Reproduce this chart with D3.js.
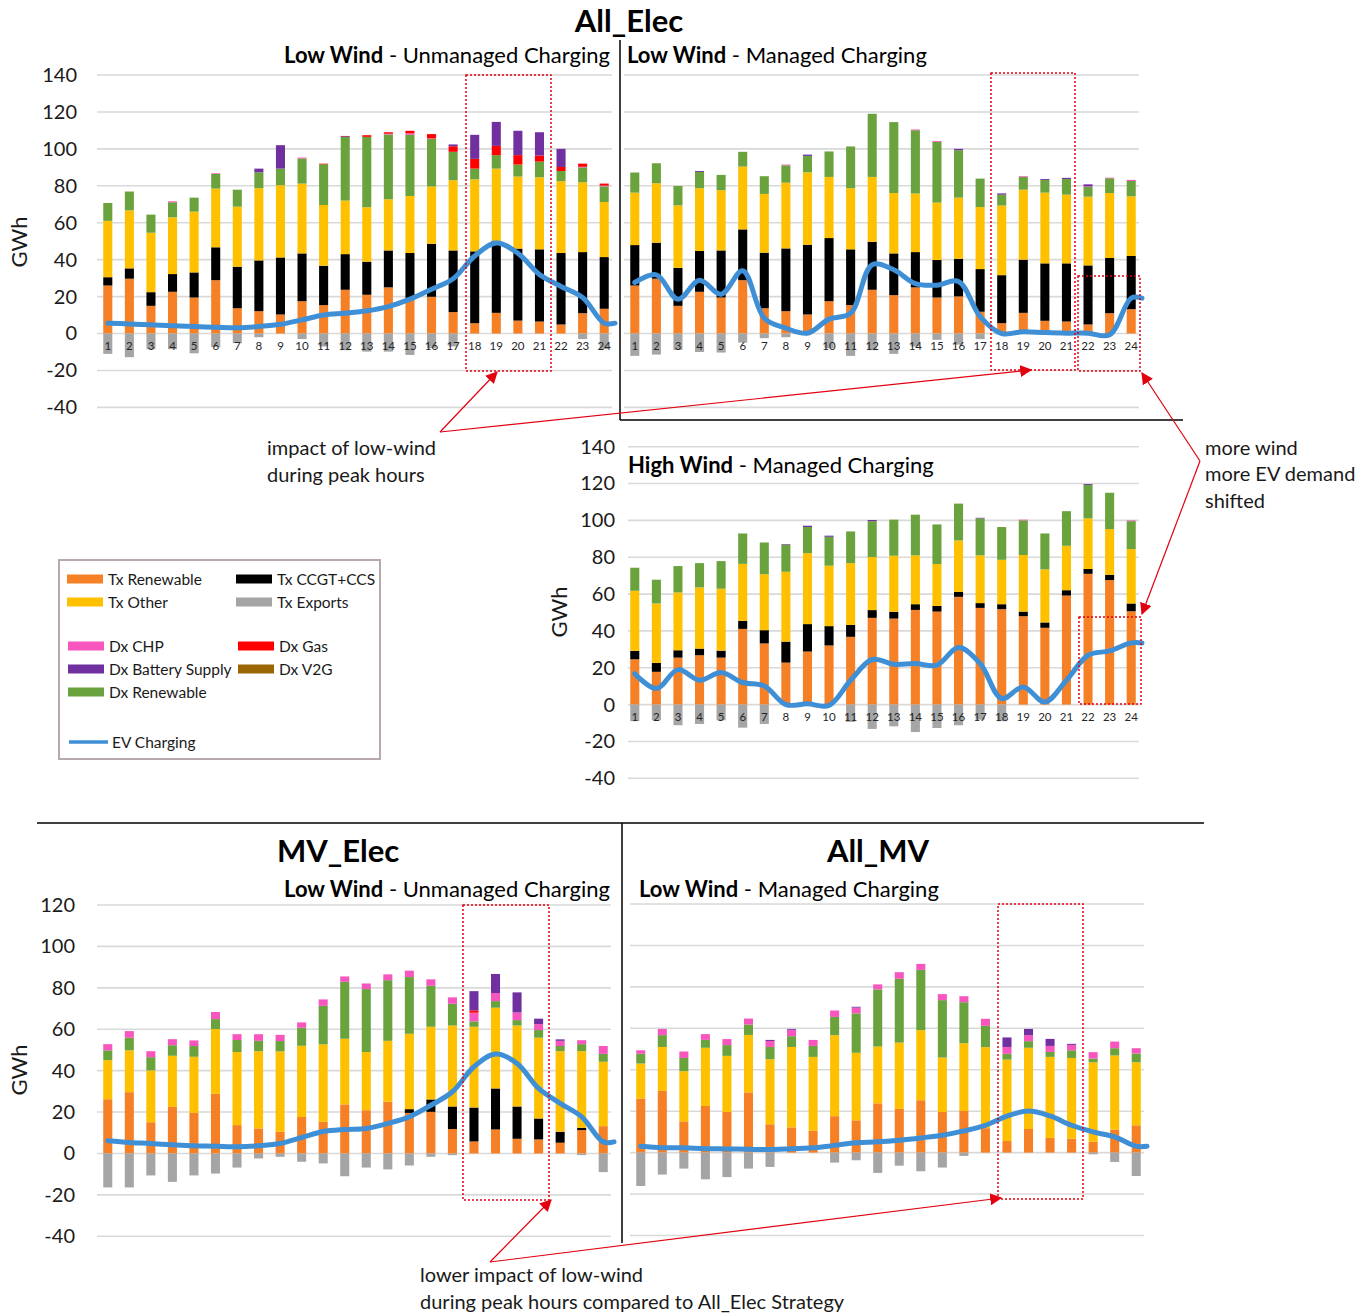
<!DOCTYPE html>
<html><head><meta charset="utf-8">
<script src="https://cdn.jsdelivr.net/npm/d3@7"></script>
<style>
body{margin:0;background:#fff;}
svg{font-family:Lato,"Open Sans",sans-serif;}
</style></head><body>
<svg id="chart" width="1371" height="1313"></svg>
<script>
// ---------- DATA ----------
const hours = d3.range(1,25).map(String);
const yTicksTop = [-40,-20,0,20,40,60,80,100,120,140];
const yTicksBottom = [-40,-20,0,20,40,60,80,100,120];

// All_Elec, Low Wind, Unmanaged
const aeLU_txRen   = [26,29.7,15,22.6,19.5,28.9,13.7,12.1,10.3,17.5,15.4,23.7,21,25,19.3,19.9,11.6,5.6,11.2,7,6.5,4.9,11,13.4];
const aeLU_ccgt    = [4.5,5.6,7.4,9.6,13.6,17.8,22.5,27.5,30.9,25.9,21.3,19.3,17.9,20,24.3,28.7,33.4,38.9,39.1,39,39.1,38.7,33.1,28];
const aeLU_txOther = [30.5,31.4,32.2,30.7,32.9,31.8,32.5,39.1,39.1,37.8,32.9,29,29.5,27.7,30.9,31,38,39,39,39,39,38.9,37.8,29.8];
const aeLU_dxRen   = [9.7,10.2,9.8,8.2,7.6,7.9,9.2,8.6,9,13.6,22.1,34.5,38.1,35.1,33.1,25.8,15.4,5.8,7.3,6.5,8.5,5.5,8.1,8.5];
const aeLU_dxChp   = [0,0,0,0.5,0,0.4,0,0,0,0.5,0,0,0,0.4,0.8,0.3,0,0,0,0,0,0,0.3,0.4];
const aeLU_dxGas   = [0,0,0,0,0,0,0,0,0,0,0.3,0.3,0.9,0.8,1.4,2.3,3,5.3,5,5.1,3.3,2.2,1.7,1.1];
const aeLU_dxBatt  = [0,0,0,0,0,0,0,2,12.7,0,0,0.2,0,0,0,0,1,13,13,13.2,12.6,9.8,0,0];
const aeLU_exports = [-11,-12.8,-8.5,-8.5,-10.7,-7.4,-5.2,-2,0,-3,-7,-9,-9.8,-9.8,-11.6,-8,-7,0,0,0,0,0,-3,-8.5];
const aeLU_ev      = [5.6,5.2,4.7,4.2,3.8,3.4,3.1,3.8,5,7.4,10,11,12.3,14.6,18.6,24,29.7,42,49,43.5,32,25.5,19.5,5.6];

// All_Elec, Low Wind, Managed
const aeLM_txRen   = [26,29.7,15,22.6,19.5,28.9,13.7,12.1,10.3,17.5,15.4,23.7,20.8,25,19.5,20.1,11.8,5.6,11.2,6.9,6.5,4.9,11,13.2];
const aeLM_ccgt    = [21.9,19.5,20.6,22.1,25.5,27.5,30.1,34,37.8,34.2,30.2,26,22.6,19.1,20.3,20.4,23.1,26,28.8,31.1,31.5,32,29.9,28.8];
const aeLM_txOther = [28.4,32.2,33.8,34,32.6,34,31.8,35.6,39.2,33.1,33.1,35.1,32.7,31.7,31.1,33.1,33.6,37.7,37.9,38.3,37.2,37.2,35.2,32.3];
const aeLM_dxRen   = [10.9,10.8,10.5,8.8,8.3,8,9.6,9.4,8.9,13.8,22.6,34.2,38.4,34.3,32.9,25.7,15.4,5.9,6.9,6.9,8.5,5.3,8,8.3];
const aeLM_dxChp   = [0,0,0,0,0,0,0,0.4,0,0,0,0,0,0.4,0.5,0,0,0,0.4,0,0,0.3,0.3,0.6];
const aeLM_dxGas   = [0,0,0,0,0,0,0,0,0,0,0,0,0,0,0,0,0,0,0,0,0,0,0,0];
const aeLM_dxBatt  = [0,0,0,0.5,0,0,0,0,0.7,0,0,0,0,0,0,0.7,0,0.7,0,0.5,0.6,1.1,0,0];
const aeLM_exports = [-12.1,-11.4,-8.9,-10,-10.3,-4.9,-2.5,-2,0,-8,-12.1,-9,-11,-7,-3.4,-6,-3,0,0,0,0,0,0,0];
const aeLM_ev      = [27.7,31.8,18.6,28.8,21.3,34,8.3,2.9,0.2,7.8,11,37.3,34.5,27,26.2,28.2,9.2,0,1,0.5,0.2,0.2,-0.7,19.2];

// All_Elec, High Wind, Managed
const aeHM_txRen   = [24.6,17.8,25.5,26.8,25.5,41.1,33.2,22.8,28.8,32.1,36.8,47.1,46.7,51.4,50.5,58.5,52.5,51.8,48,41.7,59.2,71,67.6,50.7];
const aeHM_ccgt    = [4.6,4.8,4,3.6,3.8,4.4,7.2,11.4,14.9,10.5,6.5,4.2,3.7,3.1,3.1,2.7,2.6,2.7,2.5,2.9,2.9,2.6,2.9,4.2];
const aeHM_txOther = [32.6,32.3,31.4,33.2,33.6,30.9,30.4,37.9,38.5,32.8,33.5,28.8,30.4,26.5,22.7,27.9,25.9,24.1,30.7,28.8,24.1,27.5,24.8,29.5];
const aeHM_dxRen   = [12.5,12.9,14.3,13.2,15,16.5,17.2,14.7,14.2,15.7,17.2,19.5,19.6,22.1,21.5,20,20.1,17.8,18.8,19.5,18.8,18.1,19.7,15.2];
const aeHM_dxChp   = [0,0,0,0,0,0,0,0,0,0,0,0,0,0,0,0,0,0,0.4,0,0,0,0,0.4];
const aeHM_dxGas   = [0,0,0,0,0,0,0,0,0,0,0,0,0,0,0,0,0,0,0,0,0,0,0,0];
const aeHM_dxBatt  = [0,0,0,0,0,0,0,0.3,0.7,0.6,0,0.6,0,0,0,0,0.3,0,0,0,0,0.5,0,0];
const aeHM_exports = [-9,-8.5,-11.2,-10.5,-8.5,-12.5,-10.5,0,0,0,-9.4,-13.2,-11.8,-14.9,-12.7,-11.2,-8.2,-9,0,0,0,0,0,0];
const aeHM_ev      = [16.8,8.7,19,13.2,17.4,12,10.1,0,0.4,-0.4,13.2,24.5,21.9,22.3,21.4,31,22.3,3.3,9.6,1.4,13.2,26.8,29.2,33.5];

// MV_Elec, Low Wind, Unmanaged
const meLU_txRen   = [26.2,29.6,15.1,22.5,19.6,28.8,13.7,12.1,10.5,17.6,15.3,23.7,20.9,25,19.6,20.1,11.8,5.8,11.6,7.1,6.8,5.2,11.3,13.2];
const meLU_ccgt    = [0,0,0,0,0,0,0,0,0,0,0,0,0,0,1.8,6,10.9,16.4,19.8,15.6,10.1,5.3,1.1,0];
const meLU_txOther = [18.9,20.2,25,24.7,27.1,31.3,35.3,37.3,38.8,34.4,37.4,31.7,28.1,29.4,36.4,35.1,39.1,39,39,39.1,39,38.9,37,31.1];
const meLU_dxRen   = [4.7,6.1,6.4,5.1,5.2,4.8,5.8,5,5,8.7,18.6,27.5,30.4,29.3,27.4,19.8,10.5,2.6,3.2,2.6,3.7,2.5,3.4,3.8];
const meLU_dxChp   = [3,3.2,2.9,2.9,2.7,3.4,2.8,3.2,3,2.6,3.1,2.6,2.7,2.8,3.1,3.1,3.1,4.2,3.9,3.7,2.9,2.5,1.9,3.8];
const meLU_dxGas   = [0,0,0,0,0,0,0,0,0,0,0,0,0,0,0,0,0,1.1,0,0,0,0,0,0];
const meLU_dxBatt  = [0,0,0,0,0,0,0,0,0,0,0,0,0,0,0,0,0,9.3,9.2,9.7,2.6,0.7,0,0];
const meLU_exports = [-16.4,-16.4,-10.6,-13.7,-10.6,-9.7,-6.8,-2.4,-1.6,-4,-4.8,-11,-6.8,-7.7,-5.8,-1.6,-0.8,0,0,0,0,0,-0.8,-9];
const meLU_ev      = [6.1,5.3,4.8,4.2,3.7,3.5,3.2,3.7,4.8,7.7,10.6,11.6,12.1,14.5,17.7,23.3,29.8,41.9,48,43.5,31.4,24.2,17.7,5.6];

// All_MV, Low Wind, Managed
const amLM_txRen   = [26.1,29.8,15.1,22.5,19.6,29.1,13.7,12.2,10.5,17.6,15.6,23.8,21.1,25.3,19.6,20.1,11.8,5.6,11.4,7.1,6.8,5.2,11.1,13.2];
const amLM_ccgt    = [0,0,0,0,0,0,0,0,0,0,0,0,0,0,0,0,0,0,0,0,0,0,0,0];
const amLM_txOther = [16.9,21.2,24.2,28.1,27.1,27.7,31.4,38.8,35.7,39.1,32.6,27.4,32,33.8,26.3,32.7,39.1,39.3,39.2,39.1,38.9,38.4,35.8,30.4];
const amLM_dxRen   = [4.7,5.7,6.4,3.8,5.2,5,5.9,5.2,5.3,8.8,19,27.6,30.8,29.1,27.7,19.8,10.3,2.8,3.2,2.4,3.7,1.8,3.5,4.2];
const amLM_dxChp   = [1.7,3,3.1,2.8,2.9,2.9,2.9,3.1,2.9,3.1,2.8,2.4,3.2,2.9,2.9,2.9,3.4,3.3,2.9,2.9,2.6,3.1,3.2,2.6];
const amLM_dxGas   = [0,0,0,0,0,0,0,0,0,0,0,0,0,0,0,0,0,0,0,0,0,0,0,0];
const amLM_dxBatt  = [0,0,0,0,0,0,0.5,0.4,0,0,0.4,0,0,0,0,0,0,4.6,3,3.4,0.5,0,0,0];
const amLM_exports = [-16.1,-10.6,-7.7,-12.9,-11.8,-7.7,-6.9,0,0,-4.8,-3.7,-9.8,-6.3,-9,-7.2,-1.6,0,0,0,0,0,-0.8,-4.5,-11.3];
const amLM_ev      = [3.1,2.4,2.3,1.9,1.8,1.6,1.5,1.9,2.3,3.5,4.8,5.2,6,7.1,8.4,10.5,13.2,17.6,20.1,17.7,13.2,10,7.6,3.1];

// ---------- STYLE ----------
const C = {txRen:"#F58025", ccgt:"#000000", txOther:"#FFC000", dxRen:"#6AA33D",
           dxChp:"#F656BE", dxGas:"#FF0000", dxBatt:"#7030A0", v2g:"#996600",
           exports:"#A5A5A5", ev:"#3F8FD6"};
const stackKeys = ["txRen","ccgt","txOther","dxRen","dxChp","dxGas","dxBatt"];
const svg = d3.select("#chart");
const FONT = "Lato, 'Open Sans', sans-serif";

const panels = [
 {name:"aeLU", s:{txRen:aeLU_txRen,ccgt:aeLU_ccgt,txOther:aeLU_txOther,dxRen:aeLU_dxRen,dxChp:aeLU_dxChp,dxGas:aeLU_dxGas,dxBatt:aeLU_dxBatt},
  exp:aeLU_exports, ev:aeLU_ev, xr:[97,615], yr:[407.4,75], ticks:yTicksTop, yLabels:77, gwh:[20,242], hourLabels:true},
 {name:"aeLM", s:{txRen:aeLM_txRen,ccgt:aeLM_ccgt,txOther:aeLM_txOther,dxRen:aeLM_dxRen,dxChp:aeLM_dxChp,dxGas:aeLM_dxGas,dxBatt:aeLM_dxBatt},
  exp:aeLM_exports, ev:aeLM_ev, xr:[624,1142], yr:[407.4,75], ticks:yTicksTop, yLabels:null, hourLabels:true},
 {name:"aeHM", s:{txRen:aeHM_txRen,ccgt:aeHM_ccgt,txOther:aeHM_txOther,dxRen:aeHM_dxRen,dxChp:aeHM_dxChp,dxGas:aeHM_dxGas,dxBatt:aeHM_dxBatt},
  exp:aeHM_exports, ev:aeHM_ev, xr:[624,1142], yr:[778.3,446.7], ticks:yTicksTop, yLabels:615, gwh:[560,612], hourLabels:true, gridStart:628},
 {name:"meLU", s:{txRen:meLU_txRen,ccgt:meLU_ccgt,txOther:meLU_txOther,dxRen:meLU_dxRen,dxChp:meLU_dxChp,dxGas:meLU_dxGas,dxBatt:meLU_dxBatt},
  exp:meLU_exports, ev:meLU_ev, xr:[97,614], yr:[1236.3,905], ticks:yTicksBottom, yLabels:75, gwh:[20,1070], hourLabels:false},
 {name:"amLM", s:{txRen:amLM_txRen,ccgt:amLM_ccgt,txOther:amLM_txOther,dxRen:amLM_dxRen,dxChp:amLM_dxChp,dxGas:amLM_dxGas,dxBatt:amLM_dxBatt},
  exp:amLM_exports, ev:amLM_ev, xr:[630,1147], yr:[1235.5,904], ticks:yTicksBottom, yLabels:null, hourLabels:false}
];

panels.forEach(p=>{
  const domain = [p.ticks[0], p.ticks[p.ticks.length-1]];
  const x = d3.scaleBand().domain(hours).range(p.xr).paddingInner(0.58).paddingOuter(0.29);
  const y = d3.scaleLinear().domain(domain).range(p.yr);
  const g = svg.append("g").attr("class","panel-"+p.name);
  const gx0 = p.gridStart || p.xr[0];
  g.selectAll("line.grid").data(p.ticks).join("line").attr("class","grid")
    .attr("x1",gx0).attr("x2",p.xr[1]-3).attr("y1",d=>y(d)).attr("y2",d=>y(d))
    .attr("stroke","#D9D9D9").attr("stroke-width",1.6);

  const segs = [];
  hours.forEach((h,i)=>{
    let c = 0;
    stackKeys.forEach(k=>{
      const v = p.s[k][i];
      if (v>0){ segs.push({h, k, y0:c, y1:c+v}); c += v; }
    });
    if (p.exp[i] < 0) segs.push({h, k:"exports", y0:p.exp[i], y1:0});
  });
  g.selectAll("rect.seg").data(segs).join("rect").attr("class","seg")
    .attr("x",d=>x(d.h)).attr("width",x.bandwidth())
    .attr("y",d=>y(d.y1)).attr("height",d=>Math.max(0.6,y(d.y0)-y(d.y1)))
    .attr("fill",d=>C[d.k]);

  if (p.hourLabels){
    const ax = g.append("g").attr("transform",`translate(0,${y(0)})`)
      .call(d3.axisBottom(x).tickSize(0).tickPadding(8));
    ax.select(".domain").remove();
    ax.selectAll("text").attr("font-size",11.5).attr("fill","#262626").attr("font-family",FONT);
  }

  if (p.yLabels !== null){
    const ay = g.append("g").attr("transform",`translate(${p.yLabels},0)`)
      .call(d3.axisLeft(y).tickValues(p.ticks).tickSize(0).tickPadding(0).tickFormat(d=>String(d)));
    ay.select(".domain").remove();
    ay.selectAll("text").attr("font-size",20).attr("fill","#1a1a1a").attr("font-family",FONT);
    g.append("text").attr("transform",`translate(${p.gwh[0]+7},${p.gwh[1]}) rotate(-90)`)
      .attr("text-anchor","middle").attr("font-size",22).attr("fill","#1a1a1a").text("GWh");
  }

  // EV line: points at bar centres, held flat for half a step past the last hour
  const cx = h => x(h) + x.bandwidth()/2;
  const pts = p.ev.map((v,i)=>[cx(hours[i]), y(v)]);
  const last = pts[pts.length-1];
  pts.push([last[0] + x.step()*0.5, last[1]]);
  const line = d3.line().curve(d3.curveCatmullRom.alpha(0.5));
  g.append("path").datum(pts).attr("d",line).attr("fill","none")
    .attr("stroke",C.ev).attr("stroke-width",5).attr("stroke-linejoin","round").attr("stroke-linecap","round");
});

// ---------- TITLES ----------
function title(x,y,txt,size){
  svg.append("text").attr("x",x).attr("y",y).attr("text-anchor","middle")
    .attr("font-size",size).attr("font-weight","bold").attr("fill","#000").text(txt);
}
title(629,32,"All_Elec",31);
title(338,862,"MV_Elec",31);
title(878,862,"All_MV",31);
function sub(x,y,bold,rest,anchor){
  const t = svg.append("text").attr("x",x).attr("y",y).attr("text-anchor",anchor).attr("font-size",22).attr("fill","#000");
  t.append("tspan").attr("font-weight","bold").text(bold);
  t.append("tspan").text(rest);
}
sub(610,63,"Low Wind"," - Unmanaged Charging","end");
sub(627,63,"Low Wind"," - Managed Charging","start");
sub(628,473,"High Wind"," - Managed Charging","start");
sub(610,897,"Low Wind"," - Unmanaged Charging","end");
sub(639,897,"Low Wind"," - Managed Charging","start");

// ---------- FRAMES ----------
const frame = [[620,40,620,420],[620,420,1183,420],[37,823,1204,823],[622,823,622,1243]];
svg.selectAll("line.frame").data(frame).join("line").attr("class","frame")
  .attr("x1",d=>d[0]).attr("y1",d=>d[1]).attr("x2",d=>d[2]).attr("y2",d=>d[3])
  .attr("stroke","#000").attr("stroke-width",1.5);

// ---------- LEGEND ----------
const lg = svg.append("g");
lg.append("rect").attr("x",59).attr("y",560).attr("width",321).attr("height",199)
  .attr("fill","#fff").attr("stroke","#B8A9AE").attr("stroke-width",2);
const legendItems = [
  {k:"txRen", t:"Tx Renewable", x:67, y:579},
  {k:"ccgt", t:"Tx CCGT+CCS", x:236, y:579},
  {k:"txOther", t:"Tx Other", x:67, y:602},
  {k:"exports", t:"Tx Exports", x:236, y:602},
  {k:"dxChp", t:"Dx CHP", x:68, y:646},
  {k:"dxGas", t:"Dx Gas", x:238, y:646},
  {k:"dxBatt", t:"Dx Battery Supply", x:68, y:669},
  {k:"v2g", t:"Dx V2G", x:238, y:669},
  {k:"dxRen", t:"Dx Renewable", x:68, y:692}
];
legendItems.forEach(d=>{
  lg.append("rect").attr("x",d.x).attr("y",d.y-4.5).attr("width",36).attr("height",9).attr("fill",C[d.k]);
  lg.append("text").attr("x",d.x+41).attr("y",d.y+5.5).attr("font-size",15.5).attr("fill","#1a1a1a").text(d.t);
});
lg.append("line").attr("x1",69).attr("x2",108).attr("y1",742).attr("y2",742).attr("stroke",C.ev).attr("stroke-width",3.5);
lg.append("text").attr("x",112).attr("y",747.5).attr("font-size",15.5).attr("fill","#1a1a1a").text("EV Charging");

// ---------- ANNOTATIONS ----------
const red = "#E3000F";
const defs = svg.append("defs");
defs.append("marker").attr("id","arr").attr("viewBox","0 0 10 10").attr("refX",9).attr("refY",5)
  .attr("markerWidth",12).attr("markerHeight",12).attr("markerUnits","userSpaceOnUse").attr("orient","auto")
  .append("path").attr("d","M0,0 L10,5 L0,10 z").attr("fill",red);
const boxes = [[466,75,551,371],[991,73,1075,370],[1078,276,1140,371],[1079,617,1141,704],[463,905,549,1200],[998,904,1083,1199]];
svg.selectAll("rect.dot").data(boxes).join("rect").attr("class","dot")
  .attr("x",d=>d[0]).attr("y",d=>d[1]).attr("width",d=>d[2]-d[0]).attr("height",d=>d[3]-d[1])
  .attr("fill","none").attr("stroke",red).attr("stroke-width",1.5).attr("stroke-dasharray","2,2");
const arrows = [[440,432,497,372],[440,432,1031,370],[1200,461,1142,373],[1200,461,1142,614],[490,1262,551,1200],[490,1262,1001,1198]];
svg.selectAll("line.arr").data(arrows).join("line").attr("class","arr")
  .attr("x1",d=>d[0]).attr("y1",d=>d[1]).attr("x2",d=>d[2]).attr("y2",d=>d[3])
  .attr("stroke",red).attr("stroke-width",1.2).attr("marker-end","url(#arr)");
const notes = [
  [267,455,"impact of low-wind"],[267,482,"during peak hours"],
  [1205,455,"more wind"],[1205,481,"more EV demand"],[1205,508,"shifted"],
  [420,1282,"lower impact of low-wind"],[420,1309,"during peak hours compared to All_Elec Strategy"]
];
svg.selectAll("text.note").data(notes).join("text").attr("class","note")
  .attr("x",d=>d[0]).attr("y",d=>d[1]).attr("font-size",20).attr("fill","#1a1a1a").text(d=>d[2]);
</script>
</body></html>
